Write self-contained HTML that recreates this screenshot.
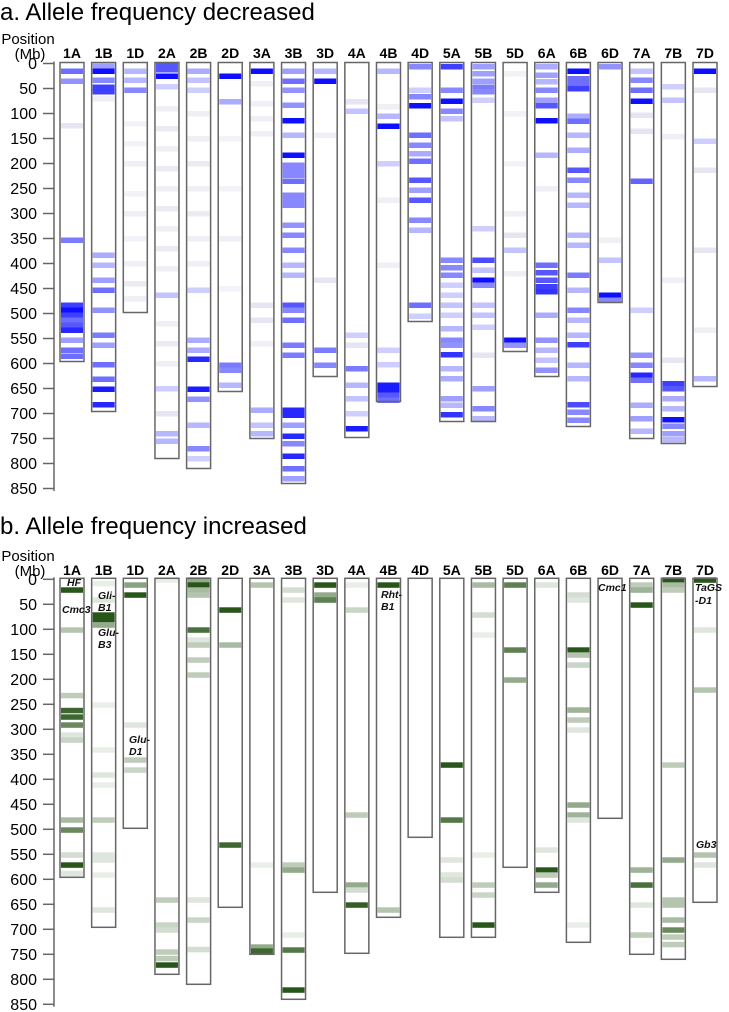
<!DOCTYPE html>
<html><head><meta charset="utf-8">
<style>
html,body{margin:0;padding:0;background:#fff;}
svg{display:block;font-family:"Liberation Sans",sans-serif;}
</style></head>
<body>
<svg id="chart" width="729" height="1012" viewBox="0 0 729 1012" xmlns="http://www.w3.org/2000/svg">
<text x="0" y="20" font-size="24" fill="#000">a. Allele frequency decreased</text>
<text x="0" y="534" font-size="24" fill="#000">b. Allele frequency increased</text>
<g id="ga"></g>
<g id="gb"></g>
</svg>
<script>
const chromosomes = ["1A","1B","1D","2A","2B","2D","3A","3B","3D","4A","4B","4D","5A","5B","5D","6A","6B","6D","7A","7B","7D"];
const lengthsMb = [596,696,498,790,810,656,750,840,626,748,676,516,716,716,576,626,726,478,750,760,646];
const ticks = [0,50,100,150,200,250,300,350,400,450,500,550,600,650,700,750,800,850];
// panel a: [Mb, intensity]
const decreased = [
 [[15,0.6],[35,0.45],[124,0.15],[353,0.55],[483,0.8],[493,1],[503,0.8],[513,0.6],[523,0.7],[533,0.9],[553,0.4],[573,0.6],[585,0.6]],
 [[5,0.4],[15,1],[33,0.5],[47,0.8],[56,0.8],[70,0.1],[383,0.35],[403,0.3],[433,0.4],[453,0.6],[493,0.45],[543,0.55],[563,0.4],[602,0.6],[631,0.6],[651,0.95],[682,0.9]],
 [[15,0.3],[33,0.3],[53,0.5],[120,0.08],[160,0.08],[200,0.1],[260,0.08],[300,0.1],[350,0.08],[400,0.1],[440,0.12],[470,0.1]],
 [[3,0.7],[12,0.7],[25,1],[46,0.2],[90,0.1],[130,0.12],[170,0.1],[210,0.12],[250,0.1],[290,0.12],[330,0.1],[370,0.12],[410,0.1],[463,0.25],[520,0.1],[560,0.12],[600,0.1],[650,0.2],[700,0.15],[740,0.3],[755,0.3]],
 [[15,0.35],[33,0.25],[53,0.2],[100,0.1],[150,0.1],[200,0.12],[250,0.1],[300,0.12],[350,0.1],[400,0.1],[453,0.2],[553,0.35],[573,0.35],[591,0.9],[651,0.95],[671,0.45],[723,0.3],[770,0.5],[790,0.2]],
 [[25,1],[76,0.35],[150,0.08],[250,0.08],[350,0.1],[450,0.08],[603,0.55],[613,0.5],[643,0.3]],
 [[15,1],[40,0.1],[80,0.1],[110,0.1],[140,0.1],[483,0.15],[513,0.15],[560,0.1],[693,0.35],[723,0.25],[740,0.3]],
 [[15,0.4],[35,0.6],[53,0.45],[83,0.45],[114,1],[143,0.3],[183,1],[203,0.5],[213,0.5],[223,0.5],[235,0.6],[263,0.5],[273,0.5],[283,0.5],[323,0.45],[343,0.5],[373,0.5],[403,0.3],[423,0.3],[483,0.7],[493,0.5],[513,0.6],[563,0.55],[583,0.55],[693,0.9],[703,0.9],[723,0.4],[745,0.9],[760,0.5],[785,0.9],[810,0.6],[830,0.4]],
 [[15,0.3],[35,1],[143,0.1],[433,0.15],[573,0.55],[603,0.5]],
 [[76,0.15],[95,0.25],[543,0.2],[563,0.15],[610,0.55],[643,0.3],[670,0.25],[700,0.2],[730,0.95]],
 [[15,0.3],[86,0.1],[105,0.3],[125,1],[200,0.2],[273,0.1],[403,0.1],[573,0.2],[602,0.2],[643,0.95],[653,0.95],[663,0.7],[673,0.6]],
 [[6,0.5],[53,0.2],[66,0.5],[84,1],[143,0.6],[163,0.5],[180,0.35],[195,0.6],[233,0.7],[253,0.4],[273,0.7],[313,0.5],[333,0.3],[483,0.6],[505,0.2]],
 [[6,0.8],[53,0.5],[75,1],[95,0.5],[110,0.25],[393,0.5],[408,0.5],[423,0.5],[443,0.2],[463,0.2],[483,0.25],[503,0.2],[530,0.3],[553,0.5],[563,0.45],[582,0.85],[610,0.3],[630,0.35],[670,0.4],[683,0.3],[702,0.85]],
 [[6,0.4],[20,0.4],[35,0.4],[47,0.55],[56,0.5],[73,0.2],[330,0.2],[393,0.75],[413,0.25],[433,1],[443,0.5],[483,0.25],[503,0.25],[527,0.2],[583,0.15],[650,0.4],[690,0.5],[710,0.3]],
 [[20,0.08],[100,0.08],[200,0.08],[300,0.1],[343,0.15],[373,0.25],[420,0.1],[553,1],[563,0.45]],
 [[6,0.35],[23,0.4],[36,0.3],[53,0.5],[73,0.4],[84,0.7],[114,1],[183,0.3],[250,0.1],[403,0.6],[418,0.7],[433,0.7],[446,0.8],[456,0.85],[503,0.35],[553,0.45],[573,0.3],[593,0.25],[613,0.45]],
 [[15,1],[30,0.6],[40,0.6],[50,0.8],[105,0.35],[115,0.6],[143,0.3],[173,0.35],[213,0.7],[233,0.5],[263,0.3],[283,0.3],[343,0.3],[363,0.3],[423,0.55],[453,0.3],[493,0.5],[513,0.3],[543,0.3],[562,0.8],[603,0.3],[630,0.3],[682,0.75],[697,0.5],[713,0.5]],
 [[6,0.45],[353,0.1],[393,0.25],[463,1],[473,0.5]],
 [[15,0.25],[33,0.5],[53,0.6],[75,1],[103,0.15],[135,0.15],[235,0.65],[493,0.2],[583,0.45],[603,0.5],[623,0.9],[633,0.6],[683,0.35],[710,0.4],[735,0.3]],
 [[46,0.2],[73,0.25],[146,0.1],[433,0.1],[593,0.15],[640,0.8],[650,0.7],[670,0.35],[690,0.3],[712,1],[725,0.5],[740,0.4],[752,0.3]],
 [[15,1],[53,0.15],[155,0.2],[213,0.15],[373,0.15],[533,0.1],[630,0.3]]
];
// panel b: [Mb, intensity]
const increased = [
 [[21,1],[101,0.35],[232,0.3],[262,0.9],[275,0.9],[291,0.7],[311,0.15],[321,0.25],[481,0.4],[501,0.7],[551,0.2],[571,1],[588,0.15]],
 [[8,0.1],[41,0.15],[71,1],[80,1],[91,0.5],[251,0.1],[341,0.1],[391,0.15],[411,0.1],[481,0.3],[551,0.15],[561,0.15],[591,0.1],[661,0.15]],
 [[11,0.55],[31,1],[291,0.15],[361,0.3],[381,0.25]],
 [[1,0.1],[641,0.3],[691,0.25],[701,0.2],[745,0.3],[758,0.3],[771,1]],
 [[1,0.5],[11,1],[21,0.4],[31,0.35],[101,0.85],[121,0.15],[131,0.3],[161,0.3],[191,0.3],[641,0.15],[681,0.25],[740,0.2]],
 [[61,1],[131,0.4],[531,0.9]],
 [[11,0.35],[571,0.1],[735,0.5],[743,0.9]],
 [[21,0.2],[41,0.15],[571,0.3],[581,0.5],[711,0.1],[741,0.8],[821,1]],
 [[11,1],[31,0.5],[41,0.75]],
 [[11,0.1],[61,0.25],[471,0.3],[611,0.5],[621,0.2],[651,0.95]],
 [[11,1],[661,0.35]],
 [],
 [[371,1],[481,0.8],[561,0.15],[591,0.15],[601,0.2]],
 [[11,0.4],[71,0.2],[111,0.1],[551,0.1],[611,0.3],[631,0.25],[691,1]],
 [[11,0.75],[141,0.75],[201,0.5]],
 [[11,0.15],[541,0.15],[581,1],[591,0.3],[611,0.5]],
 [[31,0.2],[41,0.15],[141,1],[151,0.35],[171,0.25],[261,0.45],[281,0.3],[301,0.15],[451,0.5],[471,0.45],[481,0.15],[691,0.1]],
 [],
 [[11,0.3],[21,0.45],[51,1],[581,0.45],[611,0.85],[651,0.15],[711,0.3]],
 [[1,1],[11,0.4],[21,0.3],[371,0.3],[561,0.5],[641,0.35],[651,0.35],[681,0.4],[701,0.7],[715,0.3],[730,0.3]],
 [[1,1],[101,0.15],[221,0.35],[551,0.35],[571,0.15]]
];
const annotations = [
 ["HF",67,586],["Cmc3",62,613],["Gli-",98,599],["B1",98,611],["Glu-",98,636],["B3",98,648],
 ["Glu-",129,743],["D1",129,755],["Rht-",381,598],["B1",381,610],["Cmc1",598,591],
 ["TaGS",695,591],["-D1",695,604],["Gb3",696,848]
];
const NS="http://www.w3.org/2000/svg";
const x0=60, pitch=31.65, bw=24, scale=0.5;
function colX(i){return x0+i*pitch;}
function mk(tag,attrs,parent){const e=document.createElementNS(NS,tag);for(const k in attrs)e.setAttribute(k,attrs[k]);parent.appendChild(e);return e;}
function blend(c,t,faint){
 let g=c, tt=t;
 if(faint && t<0.2){g=faint; tt=t*3;}
 return `rgb(${Math.round(255+(g[0]-255)*tt)},${Math.round(255+(g[1]-255)*tt)},${Math.round(255+(g[2]-255)*tt)})`;
}
function drawPanel(g,top,data,base,faint,prefix,headY){
 const yMb=m=>top+m*scale;
 const ax=mk('line',{x1:54,x2:54,y1:yMb(0)-2,y2:yMb(855),stroke:'#666','stroke-width':1.5},g);
 
 
 ticks.forEach(t=>{
  const tl=mk('line',{x1:43,x2:54,y1:yMb(t),y2:yMb(t),stroke:'#666','stroke-width':1.5},g);
  
  
  const tx=mk('text',{x:37,y:yMb(t)+5.5,'font-size':16,'text-anchor':'end',fill:'#000'},g);
  tx.textContent=t;
  
  
 });
 const p1=mk('text',{x:28,y:headY-14,'font-size':15,'text-anchor':'middle'},g);p1.textContent='Position';
 
 
 const p2=mk('text',{x:30,y:headY+1,'font-size':15,'text-anchor':'middle'},g);p2.textContent='(Mb)';
 
 
 chromosomes.forEach((c,i)=>{
  const x=colX(i);
  const h=mk('text',{x:x+bw/2,y:headY,'font-size':14,'font-weight':'bold','text-anchor':'middle'},g);
  h.textContent=c;
  
  
  const cg=mk('g',{},g);
  
  
  data[i].forEach(b=>{
   const r=mk('rect',{x:x+1,y:yMb(b[0])-2.5,width:bw-2,height:5.5,fill:blend(base,b[1],faint)},cg);
   
   
  });
  const bx=mk('rect',{x:x,y:yMb(0)-1,width:bw,height:lengthsMb[i]*scale+1,fill:'none',stroke:'#666','stroke-width':1.5},cg);
  
  
 });
}
drawPanel(document.getElementById('ga'),63.5,decreased,[15,15,255],[200,200,225],'a',58);
drawPanel(document.getElementById('gb'),579.3,increased,[40,85,25],null,'b',575);
const gb=document.getElementById('gb');
annotations.forEach(a=>{
 const t=mk('text',{x:a[1],y:a[2],'font-size':10.5,'font-weight':'bold','font-style':'italic',fill:'#111'},gb);
 t.textContent=a[0];
 
 
});
</script>
</body></html>
